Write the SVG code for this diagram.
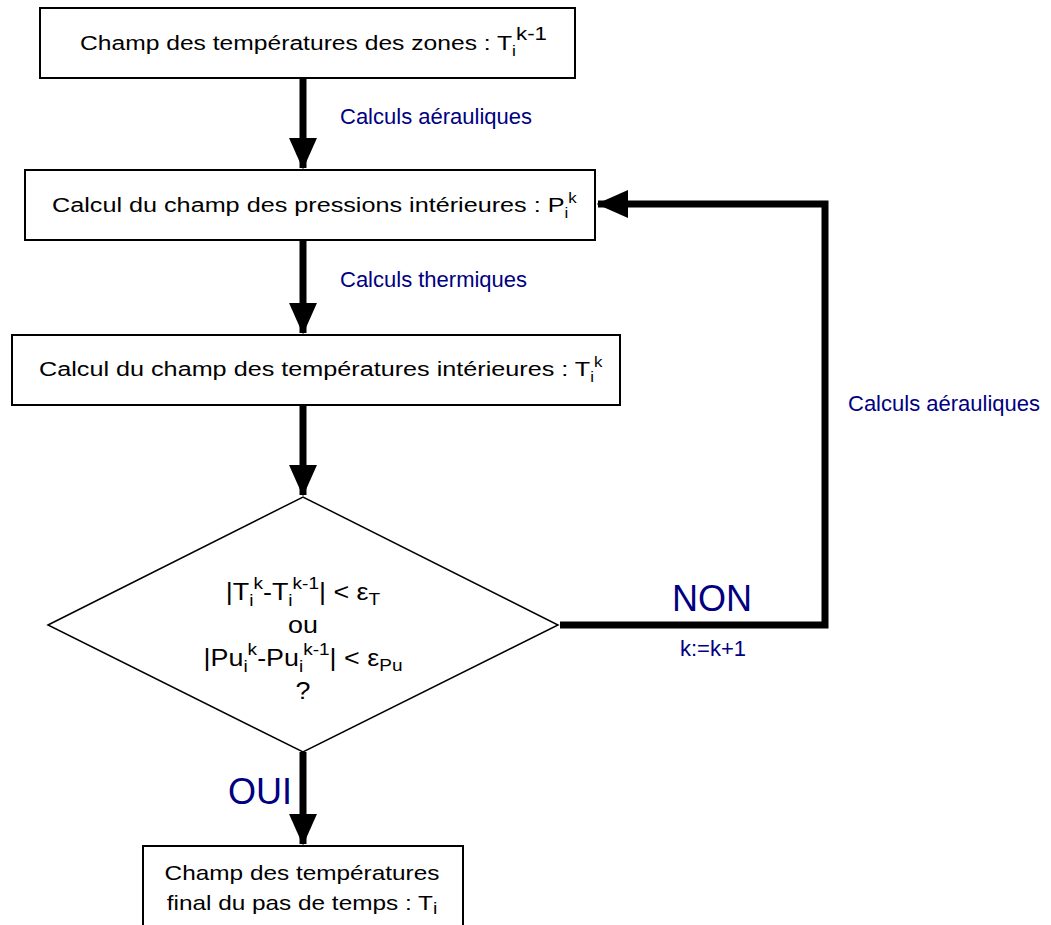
<svg xmlns="http://www.w3.org/2000/svg" width="1051" height="925" viewBox="0 0 1051 925">
<style>
.box{fill:#fff;stroke:#000;stroke-width:2}
.t{font-family:"Liberation Sans",Arial,sans-serif;font-size:21px;fill:#000}
.d{font-family:"Liberation Sans",Arial,sans-serif;font-size:24px;fill:#000}
.lbl{font-family:"Liberation Sans",Arial,sans-serif;font-size:22px;fill:#000080}
.big{font-family:"Liberation Sans",Arial,sans-serif;font-size:36px;fill:#000080}
.conn{stroke:#000;stroke-width:7;fill:none}
</style>
<defs>
<marker id="ah" markerWidth="4.5" markerHeight="4" refX="4.3" refY="2" orient="auto" markerUnits="strokeWidth">
<path d="M0,0 L4.5,2 L0,4 Z" fill="#000"/>
</marker>
</defs>
<rect width="1051" height="925" fill="#fff"/>
<g id="connectors">
<line class="conn" x1="303" y1="78" x2="303" y2="168" marker-end="url(#ah)"/>
<line class="conn" x1="303" y1="240" x2="303" y2="333" marker-end="url(#ah)"/>
<line class="conn" x1="303" y1="405" x2="303" y2="495" marker-end="url(#ah)"/>
<line class="conn" x1="303" y1="752" x2="303" y2="844" marker-end="url(#ah)"/>
<polyline class="conn" points="560,625 825,625 825,204 598,204" marker-end="url(#ah)"/>
<text class="lbl" x="340" y="124">Calculs aérauliques</text>
<text class="lbl" x="340" y="287">Calculs thermiques</text>
<text class="lbl" x="848" y="411">Calculs aérauliques</text>
<text class="big" x="672" y="611">NON</text>
<text class="lbl" x="680" y="656" font-size="20">k:=k+1</text>
<text class="big" x="228" y="804">OUI</text>
</g>
<g id="n1">
<rect class="box" x="40" y="8" width="535" height="70"/>
<text class="t" transform="translate(80,50) scale(1.174,1)">Champ des températures des zones : T<tspan dy="6" font-size="15">i</tspan><tspan dy="-16" font-size="19">k-1</tspan></text>
</g>
<g id="n2">
<rect class="box" x="25" y="170" width="570" height="70"/>
<text class="t" transform="translate(52,212) scale(1.2,1)">Calcul du champ des pressions intérieures : P<tspan dy="6" font-size="14">i</tspan><tspan dy="-15" font-size="14">k</tspan></text>
</g>
<g id="n3">
<rect class="box" x="12" y="335" width="608" height="70"/>
<text class="t" transform="translate(39,376) scale(1.2,1)">Calcul du champ des températures intérieures : T<tspan dy="6" font-size="14">i</tspan><tspan dy="-15" font-size="14">k</tspan></text>
</g>
<g id="n4">
<polygon points="48,625 303,497 558,625 303,752" fill="#fff" stroke="#000" stroke-width="1.5"/>
<g transform="translate(303,0) scale(1.12,1)">
<text class="d" x="0" y="600" text-anchor="middle">|T<tspan dy="6" font-size="17">i</tspan><tspan dy="-17" font-size="17">k</tspan><tspan dy="11">-T</tspan><tspan dy="6" font-size="17">i</tspan><tspan dy="-17" font-size="17">k-1</tspan><tspan dy="11">| &lt; ε</tspan><tspan dy="5" font-size="17">T</tspan></text>
<text class="d" x="0" y="633" text-anchor="middle">ou</text>
<text class="d" x="0" y="666" text-anchor="middle">|Pu<tspan dy="6" font-size="17">i</tspan><tspan dy="-17" font-size="17">k</tspan><tspan dy="11">-Pu</tspan><tspan dy="6" font-size="17">i</tspan><tspan dy="-17" font-size="17">k-1</tspan><tspan dy="11">| &lt; ε</tspan><tspan dy="5" font-size="17">Pu</tspan></text>
<text class="d" x="0" y="699" text-anchor="middle">?</text>
</g>
</g>
<g id="n5">
<rect class="box" x="143" y="846" width="320" height="90"/>
<g transform="translate(302,0) scale(1.16,1)">
<text class="t" x="0" y="880" text-anchor="middle">Champ des températures</text>
<text class="t" x="0" y="910" text-anchor="middle">final du pas de temps : T<tspan dy="4" font-size="17">i</tspan></text>
</g>
</g>
</svg>
